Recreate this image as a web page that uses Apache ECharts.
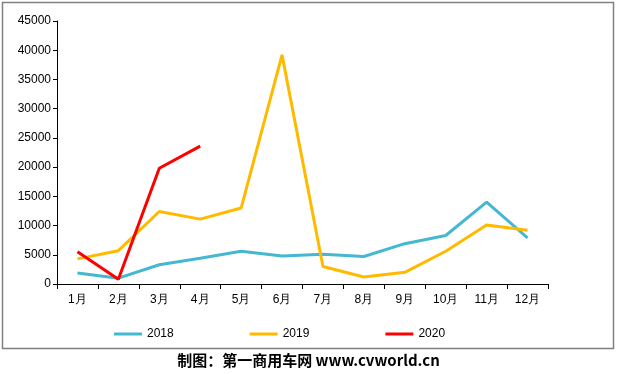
<!DOCTYPE html>
<html><head><meta charset="utf-8">
<script src="https://cdn.jsdelivr.net/npm/echarts@6/dist/echarts.min.js"></script>
<style>html,body{margin:0;padding:0;background:#fff}#c{width:617px;height:374px}</style>
</head><body><div id="c"></div>
<script>
const months = ['1月','2月','3月','4月','5月','6月','7月','8月','9月','10月','11月','12月'];
const s2018 = [1900, 1000, 3300, 4400, 5600, 4800, 5100, 4700, 6900, 8300, 14000, 7900];
const s2019 = [4300, 5700, 12400, 11100, 13000, 39200, 3000, 1200, 2000, 5600, 10100, 9200];
const s2020 = [5500, 800, 19800, 23600];
const seriesNames = ['2018', '2019', '2020'];
const colors = ['#45B8D1', '#FFBA00', '#FF0000'];
const credit = '制图：第一商用车网 www.cvworld.cn';

const chart = echarts.init(document.getElementById('c'), null, {renderer: 'canvas'});
const font = 'Liberation Sans, Arial, sans-serif';
const mk = (name, data, color) => ({
  name, type: 'line', data, symbol: 'none', smooth: false,
  lineStyle: {color, width: 3}, itemStyle: {color}
});
chart.setOption({
  animation: false,
  textStyle: {fontFamily: font},
  graphic: [
    {type: 'rect', shape: {x: 2.5, y: 2.5, width: 611, height: 346}, style: {fill: 'none', stroke: '#808080', lineWidth: 1.5}},
    {type: 'text', left: 'center', top: 353, style: {text: credit, font: 'bold 15px "Noto Sans CJK SC", sans-serif', fill: '#000'}}
  ],
  grid: {left: 57, right: 69, top: 21, bottom: 90},
  legend: {
    top: 328, left: 114, padding: 0, itemGap: 76, itemWidth: 28, itemHeight: 3,
    icon: 'rect',
    textStyle: {fontFamily: font, fontSize: 12, color: '#000'},
    data: seriesNames
  },
  xAxis: {
    type: 'category', data: months, boundaryGap: true,
    axisLine: {lineStyle: {color: '#000', width: 1}},
    axisTick: {show: true, inside: false, length: 5, lineStyle: {color: '#000'}},
    axisLabel: {color: '#000', fontSize: 12, fontFamily: font, margin: 10}
  },
  yAxis: {
    type: 'value', min: 0, max: 45000, interval: 5000,
    axisLine: {show: true, lineStyle: {color: '#000', width: 1}},
    axisTick: {show: true, length: 4, lineStyle: {color: '#000'}},
    splitLine: {show: false},
    axisLabel: {color: '#000', fontSize: 12, fontFamily: font, margin: 6, formatter: v => String(v)}
  },
  series: [mk(seriesNames[0], s2018, colors[0]), mk(seriesNames[1], s2019, colors[1]), mk(seriesNames[2], s2020, colors[2])]
});
</script></body></html>
